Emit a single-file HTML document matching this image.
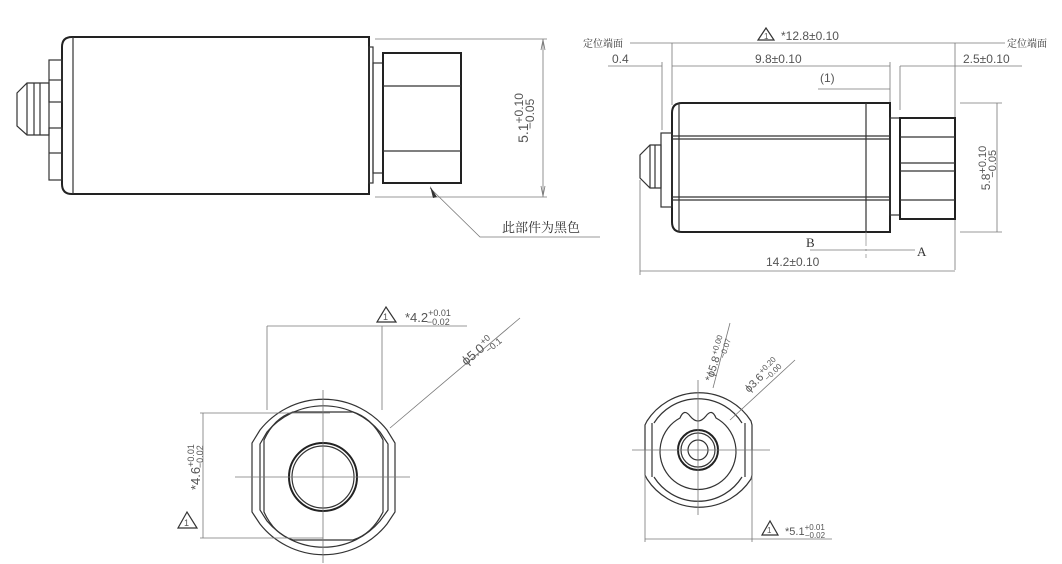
<!DOCTYPE html>
<html><head><meta charset="utf-8"><style>
html,body{margin:0;padding:0;background:#fff;}
svg{display:block;}
text{font-family:"Liberation Sans","Noto Sans CJK SC",sans-serif;fill:#555;}
.cj{font-family:"Liberation Serif","Noto Serif CJK SC",serif;fill:#333;}
.k{stroke:#222;stroke-width:2;fill:none;}
.m{stroke:#333;stroke-width:1.2;fill:none;}
.t{stroke:#777;stroke-width:0.8;fill:none;}
.c{stroke:#888;stroke-width:0.7;fill:none;stroke-dasharray:14 3 2 3;}
</style></head><body>
<svg width="1062" height="564" viewBox="0 0 1062 564" xmlns="http://www.w3.org/2000/svg">
<!-- ===== Top-left side view ===== -->
<path class="k" d="M72,37 H369 V194 H72 Q62,194 62,184 V47 Q62,37 72,37 Z"/>
<line class="m" x1="73" y1="37" x2="73" y2="194"/>
<rect class="m" x="369" y="47" width="4" height="136"/>
<rect class="m" x="373" y="63" width="10" height="110"/>
<rect class="k" x="383" y="53" width="78" height="130"/>
<line class="m" x1="383" y1="86" x2="461" y2="86"/>
<line class="m" x1="383" y1="151" x2="461" y2="151"/>
<rect class="m" x="49" y="60" width="13" height="42"/>
<line class="m" x1="49" y1="80" x2="62" y2="80"/>
<rect class="m" x="49" y="128" width="13" height="52"/>
<line class="m" x1="49" y1="153" x2="62" y2="153"/>
<path class="m" d="M27,83 H49 V135 H27 L17,126 V93 Z"/>
<line class="m" x1="27" y1="83" x2="27" y2="135"/>
<line class="m" x1="34" y1="83" x2="34" y2="135"/>
<line class="m" x1="40" y1="83" x2="40" y2="135"/>
<line class="t" x1="375" y1="39" x2="547" y2="39"/>
<line class="t" x1="375" y1="197" x2="547" y2="197"/>
<line class="t" x1="543" y1="39" x2="543" y2="197"/>
<path class="t" d="M541,50 L543,40 L545,50 M541,186 L543,196 L545,186"/>
<text transform="translate(528,118) rotate(-90)" font-size="14" text-anchor="middle">5.1<tspan dy="-5" font-size="12">+0.10</tspan><tspan dx="-36" dy="11" font-size="12">−0.05</tspan></text>
<path class="t" d="M430,188 L480,237 H600"/>
<path d="M430,186 L437,197 L433,198 Z" fill="#333"/>
<text class="cj" x="502" y="232" font-size="13">此部件为黑色</text>

<!-- ===== Top-right side view ===== -->
<line class="t" x1="630" y1="43" x2="1005" y2="43"/>
<text class="cj" x="583" y="47" font-size="10">定位端面</text>
<text class="cj" x="1007" y="47" font-size="10">定位端面</text>
<path d="M766,28 L758,40 L774,40 Z" fill="none" stroke="#333" stroke-width="1.2"/>
<text x="764" y="39" font-size="8" fill="#333">1</text>
<text x="781" y="40" font-size="12">*12.8±0.10</text>
<line class="t" x1="672" y1="43" x2="672" y2="105"/>
<line class="t" x1="955" y1="43" x2="955" y2="270"/>
<line class="t" x1="608" y1="66" x2="662" y2="66"/>
<text x="612" y="63" font-size="12">0.4</text>
<line class="t" x1="662" y1="62" x2="662" y2="130"/>
<line class="t" x1="672" y1="66" x2="890" y2="66"/>
<text x="755" y="63" font-size="12">9.8±0.10</text>
<line class="t" x1="890" y1="62" x2="890" y2="103"/>
<line class="t" x1="900" y1="66" x2="1022" y2="66"/>
<line class="t" x1="900" y1="66" x2="900" y2="110"/>
<text x="963" y="63" font-size="12">2.5±0.10</text>
<text x="820" y="82" font-size="12">(1)</text>
<line class="t" x1="818" y1="89" x2="890" y2="89"/>
<path class="k" d="M682,103 H890 V232 H682 Q672,232 672,222 V113 Q672,103 682,103 Z"/>
<line class="m" x1="679" y1="103" x2="679" y2="232"/>
<line class="m" x1="672" y1="136" x2="890" y2="136"/>
<line class="m" x1="672" y1="139" x2="890" y2="139"/>
<line class="m" x1="672" y1="197" x2="890" y2="197"/>
<line class="m" x1="672" y1="200" x2="890" y2="200"/>
<line class="m" x1="866" y1="103" x2="866" y2="232"/>
<line class="c" x1="866" y1="232" x2="866" y2="258"/>
<rect class="m" x="661" y="133" width="11" height="74"/>
<path class="m" d="M650,145 H661 V188 H650 L640,178 V155 Z"/>
<line class="m" x1="650" y1="145" x2="650" y2="188"/>
<line class="m" x1="655" y1="145" x2="655" y2="188"/>
<rect class="m" x="890" y="118" width="10" height="97"/>
<rect class="k" x="900" y="118" width="55" height="101"/>
<line class="m" x1="900" y1="137" x2="955" y2="137"/>
<line class="m" x1="900" y1="163" x2="955" y2="163"/>
<line class="m" x1="900" y1="171" x2="955" y2="171"/>
<line class="m" x1="900" y1="200" x2="955" y2="200"/>
<line class="t" x1="960" y1="103" x2="1002" y2="103"/>
<line class="t" x1="960" y1="232" x2="1002" y2="232"/>
<line class="t" x1="997" y1="103" x2="997" y2="232"/>
<text transform="translate(990,168) rotate(-90)" font-size="12" text-anchor="middle">5.8<tspan dy="-4" font-size="11">+0.10</tspan><tspan dx="-32" dy="10" font-size="11">−0.05</tspan></text>
<text class="cj" x="806" y="247" font-size="13">B</text>
<line class="t" x1="810" y1="250" x2="915" y2="250"/>
<text class="cj" x="917" y="256" font-size="13">A</text>
<line class="t" x1="640" y1="180" x2="640" y2="275"/>
<line class="t" x1="640" y1="271" x2="955" y2="271"/>
<text x="766" y="266" font-size="12">14.2±0.10</text>

<!-- ===== Bottom-left end view ===== -->
<line class="t" x1="267" y1="326" x2="467" y2="326"/>
<line class="t" x1="267" y1="326" x2="267" y2="410"/>
<line class="t" x1="382" y1="326" x2="382" y2="410"/>
<path d="M386,307 L377,322 L396,322 Z" fill="none" stroke="#333" stroke-width="1.2"/>
<text x="383" y="320" font-size="9" fill="#333">1</text>
<text x="405" y="322" font-size="13">*4.2<tspan dy="-6" font-size="9">+0.01</tspan><tspan dx="-24" dy="9" font-size="9">−0.02</tspan></text>
<path class="m" d="M260,430 A81,81 0 0 1 387,430 L395,443 V512 L387,524 A81,81 0 0 1 260,524 L252,512 V443 Z"/>
<path class="m" d="M267,432 A74,74 0 0 1 380,432 L388,444 V510 L380,521 A74,74 0 0 1 267,521 L260,510 V444 Z"/>
<path class="m" d="M293,412 H353 Q372,418 383,440 V512 Q372,534 353,540 H293 Q274,534 264,512 V440 Q274,418 293,412 Z"/>
<circle class="k" cx="323" cy="477" r="34"/>
<circle class="m" cx="323" cy="477" r="31"/>
<line class="t" x1="235" y1="477" x2="410" y2="477"/>
<line class="t" x1="323" y1="390" x2="323" y2="563"/>
<line class="t" x1="390" y1="428" x2="520" y2="318"/>
<text transform="translate(466,366) rotate(-40)" font-size="13">ϕ5.0<tspan dx="1" dy="-5" font-size="9">+0</tspan><tspan dx="-11" dy="10" font-size="9">−0.1</tspan></text>
<line class="t" x1="200" y1="413" x2="330" y2="413"/>
<line class="t" x1="200" y1="538" x2="323" y2="538"/>
<line class="t" x1="203" y1="413" x2="203" y2="538"/>
<text transform="translate(200,490) rotate(-90)" font-size="13">*4.6<tspan dy="-6" font-size="9">+0.01</tspan><tspan dx="-24" dy="9" font-size="9">−0.02</tspan></text>
<path d="M187,512 L178,528 L197,528 Z" fill="none" stroke="#333" stroke-width="1.2"/>
<text x="184" y="526" font-size="9" fill="#333">1</text>

<!-- ===== Bottom-right end view ===== -->
<path class="m" d="M647,421 A62,62 0 0 1 751,421 L752,425 V475 L751,479 A62,62 0 0 1 647,479 L645,475 V425 Z"/>
<path class="m" d="M654,423 A52,52 0 0 1 742,423 M654,477 A52,52 0 0 0 742,477"/>
<line class="m" x1="652" y1="423" x2="652" y2="477"/>
<line class="m" x1="745" y1="423" x2="745" y2="477"/>
<path class="m" d="M680,418 A38,38 0 1 0 716,418 Q712,408 706,416 Q698,426 690,416 Q684,408 680,418 Z"/>
<circle class="k" cx="698" cy="450" r="20"/>
<circle class="m" cx="698" cy="450" r="17"/>
<circle class="m" cx="698" cy="450" r="10"/>
<line class="t" x1="632" y1="450" x2="770" y2="450"/>
<line class="t" x1="698" y1="380" x2="698" y2="515"/>
<line class="t" x1="645" y1="450" x2="645" y2="542"/>
<line class="t" x1="752" y1="450" x2="752" y2="542"/>
<line class="t" x1="645" y1="539" x2="832" y2="539"/>
<path d="M770,521 L762,535 L778,535 Z" fill="none" stroke="#333" stroke-width="1.2"/>
<text x="767" y="533" font-size="8" fill="#333">1</text>
<text x="785" y="535" font-size="11">*5.1<tspan dy="-5" font-size="8">+0.01</tspan><tspan dx="-20" dy="8" font-size="8">−0.02</tspan></text>
<line class="t" x1="713" y1="388" x2="730" y2="323"/>
<text transform="translate(712,382) rotate(-72)" font-size="11">*ϕ5.8<tspan dx="1" dy="-4" font-size="8">+0.00</tspan><tspan dx="-21" dy="9" font-size="8">−0.07</tspan></text>
<line class="t" x1="730" y1="420" x2="795" y2="360"/>
<text transform="translate(749,393) rotate(-45)" font-size="11">ϕ3.6<tspan dx="1" dy="-4" font-size="8">+0.20</tspan><tspan dx="-21" dy="9" font-size="8">−0.00</tspan></text>
</svg>
</body></html>
